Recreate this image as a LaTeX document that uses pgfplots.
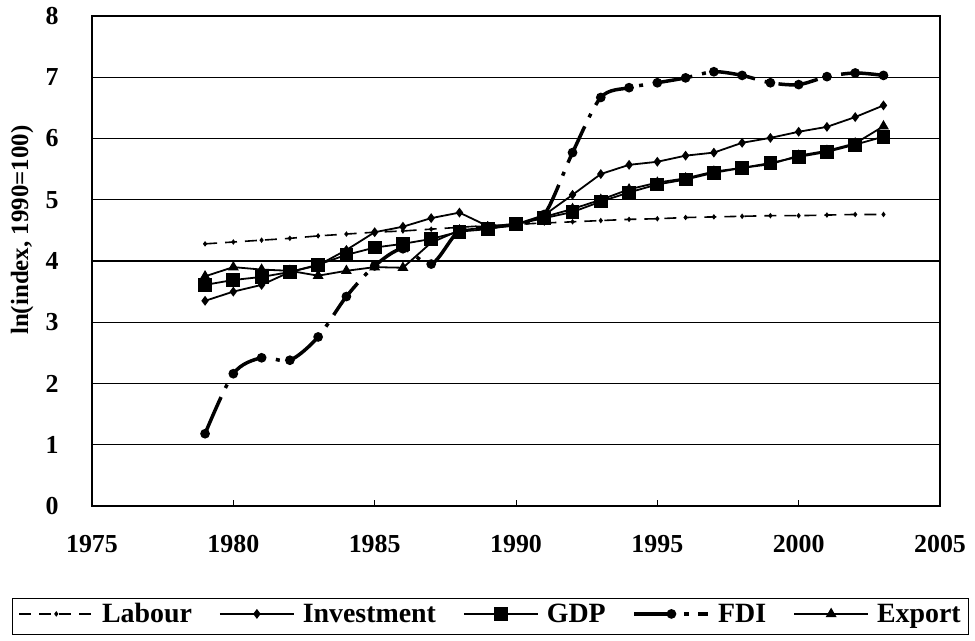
\documentclass[border=0pt]{standalone}
\usepackage{pgfplots}
\pgfplotsset{compat=1.18}
\usepackage{pgfplotstable}
\usepackage{fontspec}
\setmainfont{Liberation Serif}

\pgfplotstableread{
year labour invest gdp fdi export
1979 4.28 3.35 3.61 1.18 3.75
1980 4.31 3.50 3.69 2.16 3.90
1981 4.34 3.61 3.74 2.42 3.86
1982 4.37 3.82 3.82 2.38 3.84
1983 4.41 3.93 3.94 2.76 3.76
1984 4.44 4.18 4.10 3.42 3.84
1985 4.47 4.47 4.22 3.92 3.90
1986 4.49 4.56 4.28 4.20 3.89
1987 4.52 4.70 4.36 3.95 4.30
1988 4.55 4.79 4.48 4.50 4.50
1989 4.58 4.57 4.52 4.55 4.55
1990 4.60 4.60 4.60 4.60 4.60
1991 4.62 4.75 4.70 4.76 4.72
1992 4.64 5.08 4.80 5.77 4.85
1993 4.66 5.42 4.97 6.67 5.00
1994 4.68 5.57 5.12 6.83 5.17
1995 4.69 5.62 5.25 6.91 5.28
1996 4.71 5.72 5.33 6.99 5.35
1997 4.72 5.77 5.44 7.09 5.46
1998 4.73 5.93 5.52 7.03 5.52
1999 4.74 6.01 5.60 6.91 5.58
2000 4.74 6.11 5.70 6.88 5.72
2001 4.75 6.19 5.78 7.01 5.80
2002 4.76 6.35 5.90 7.07 5.92
2003 4.76 6.54 6.03 7.03 6.20
}\datatable

\begin{document}
\begin{tikzpicture}
\begin{axis}[
  scale only axis,
  width=848bp, height=490bp,
  xmin=1975, xmax=2005, ymin=0, ymax=8,
  xtick={1975,1980,...,2005},
  ytick={0,1,...,8},
  /pgf/number format/1000 sep={},
  /pgf/number format/assume math mode=true,
  ticklabel style={font=\bfseries\fontsize{26}{28}\selectfont},
  xticklabel style={yshift=-26bp},
  yticklabel style={xshift=-30bp},
  ylabel={ln(index, 1990=100)},
  ylabel style={font=\bfseries\fontsize{25}{28}\selectfont, at={(axis description cs:-0.0825,0.563)}, anchor=center},
  axis line style={line width=1.4bp},
  tick style={black, line width=1bp},
  xtick pos=bottom, ytick pos=left,
  tick align=inside,
  major tick length=6bp,
  ymajorgrids,
  grid style={black, line width=1.1bp},
  legend columns=5,
  legend cell align=left,
  legend style={at={(-0.09434,-0.18776)}, anchor=north west, draw=black, line width=1bp,
    font=\bfseries\fontsize{28}{31}\selectfont, inner xsep=6bp, inner ysep=3bp,
    /tikz/every odd column/.append style={column sep=6bp},
    /tikz/every even column/.append style={column sep=25bp}},
  legend image code/.code={\draw[mark repeat=2,mark phase=2] plot coordinates {(0bp,0bp) (37bp,0bp) (74bp,0bp)};},
]
\addplot[black, line width=1.6bp, dash pattern=on 12bp off 8bp, mark=diamond*, mark size=1.5bp, mark options={solid}] table[x=year,y=labour] {\datatable};
\addlegendentry{Labour}
\addplot[black, line width=1.8bp, mark=diamond*, mark size=3.5bp] table[x=year,y=invest] {\datatable};
\addlegendentry{Investment}
\addplot[black, line width=1.8bp, mark=square*, mark size=6bp] table[x=year,y=gdp] {\datatable};
\addlegendentry{GDP}
\addplot[black, line width=3.5bp, smooth, dash pattern=on 40bp off 10bp on 4bp off 10bp, mark=*, mark size=3bp, mark options={solid}] table[x=year,y=fdi] {\datatable};
\addlegendentry{FDI}
\addplot[black, line width=1.8bp, mark=triangle*, mark size=4.5bp] table[x=year,y=export] {\datatable};
\addlegendentry{Export}
\addlegendimage{empty legend}
\addlegendentry{}
\end{axis}
\pgfresetboundingbox
\useasboundingbox (-92bp,-135bp) rectangle (883bp,506bp);
\end{tikzpicture}
\end{document}
